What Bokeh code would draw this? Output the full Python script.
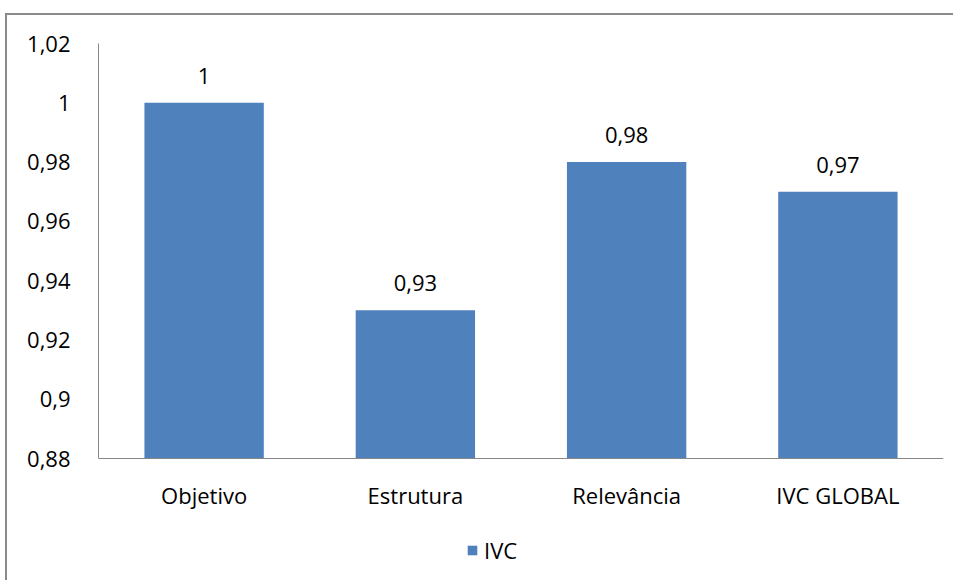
from bokeh.plotting import figure
from bokeh.models import (ColumnDataSource, Range1d, FixedTicker, CustomJSTickFormatter,
                          Legend, LegendItem, Span)
from bokeh.core.properties import value
from bokeh.embed import file_html
from bokeh.resources import INLINE

categories = ["Objetivo", "Estrutura", "Relevância", "IVC GLOBAL"]
ivc = [1.00, 0.93, 0.98, 0.97]
labels = ["1", "0,93", "0,98", "0,97"]
y_ticks = [0.88, 0.90, 0.92, 0.94, 0.96, 0.98, 1.00, 1.02]
series_name = "IVC"

FONT = "Open Sans"
BAR = "#4F81BD"
AXIS = "#868686"
FS = "22px"

y_min, y_max = y_ticks[0], y_ticks[-1]
# frame extends below the value axis to hold category labels and legend
frame_h = 539
axis_h = 415
y_start = y_min - (frame_h - axis_h) * (y_max - y_min) / axis_h

src = ColumnDataSource(dict(cat=categories, val=ivc, lab=labels,
                            base=[y_min] * len(categories)))

p = figure(x_range=categories, width=948, height=567, output_backend="svg",
           toolbar_location=None, min_border_left=91, min_border_right=12,
           min_border_top=28, min_border_bottom=0)
p.y_range = Range1d(y_start, y_max)
p.outline_line_color = None
p.background_fill_color = "white"
p.border_fill_color = "white"
p.grid.visible = False
p.xaxis.visible = False

bars = p.vbar(x="cat", top="val", bottom=y_min, width=0.565, source=src,
              fill_color=BAR, line_color=None)
# value labels
p.text(x="cat", y="val", text="lab", source=src, text_align="center",
       text_baseline="alphabetic", y_offset=-27, text_font=value(FONT),
       text_font_size=FS, text_color="black")
# category labels
p.text(x="cat", y="base", text="cat", source=src, text_align="center",
       text_baseline="middle", y_offset=36, text_font=value(FONT),
       text_font_size=FS, text_color="black")
# category axis line
p.add_layout(Span(location=y_min, dimension="width", line_color=AXIS, line_width=1))

p.yaxis.ticker = FixedTicker(ticks=y_ticks)
p.yaxis.bounds = (y_min, y_max)
p.yaxis.formatter = CustomJSTickFormatter(
    code="return String(Math.round(tick*100)/100).replace('.', ',');")
ax = p.yaxis[0]
ax.axis_line_color = AXIS
ax.major_tick_line_color = None
ax.minor_tick_line_color = None
ax.major_label_text_font = FONT
ax.major_label_text_font_size = FS
ax.major_label_text_color = "black"
ax.major_label_standoff = 22

legend = Legend(items=[LegendItem(label=series_name, renderers=[bars])],
                location=(368, 17), orientation="horizontal",
                glyph_width=12, glyph_height=12, label_standoff=6, padding=0,
                margin=0, border_line_color=None, background_fill_alpha=0,
                label_text_font=FONT, label_text_font_size=FS,
                label_text_color="black")
p.add_layout(legend, "center")

p.styles = {"margin-left": "5px", "margin-top": "13px",
            "border-left": "2px solid #8a8a8a", "border-top": "2px solid #8a8a8a"}

open("out.html", "w").write(file_html(p, INLINE))
